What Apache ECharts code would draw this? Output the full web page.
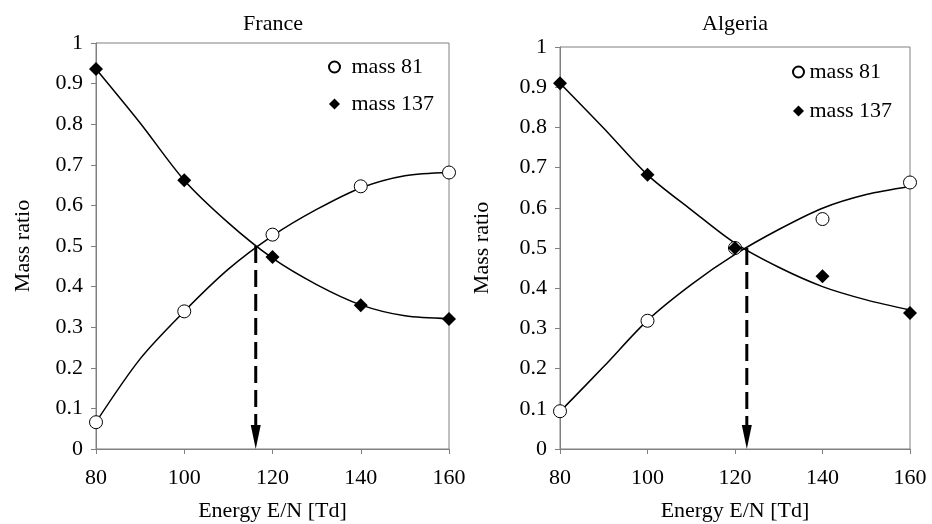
<!DOCTYPE html>
<html>
<head>
<meta charset="utf-8">
<script src="https://cdn.jsdelivr.net/npm/echarts@6/dist/echarts.min.js"></script>
<style>
  html, body { margin: 0; background: #fff; }
  #chart { width: 932px; height: 524px; }
</style>
</head>
<body>
<div id="chart"></div>
<script>
// measured points (energy in Td, mass ratio)
var energy = [80, 100, 120, 140, 160];
var franceMass81 = [0.066, 0.339, 0.528, 0.647, 0.681];
var franceMass137 = [0.936, 0.662, 0.473, 0.354, 0.320];
var algeriaMass81 = [0.094, 0.319, 0.500, 0.572, 0.663];
var algeriaMass137 = [0.910, 0.682, 0.500, 0.430, 0.338];

// trend curves, every 10 Td
var fitX = [80, 90, 100, 110, 120, 130, 140, 150, 160];
var franceFit81 = [0.066, 0.222, 0.339, 0.443, 0.525, 0.590, 0.643, 0.673, 0.681];
var franceFit137 = [0.936, 0.803, 0.662, 0.557, 0.470, 0.405, 0.355, 0.328, 0.321];
var algeriaFit81 = [0.093, 0.205, 0.320, 0.409, 0.484, 0.546, 0.599, 0.633, 0.653];
var algeriaFit137 = [0.910, 0.798, 0.682, 0.595, 0.512, 0.452, 0.404, 0.371, 0.346];

// crossing points marked by the dashed arrow
var crossX = [116.2, 122.7];
var crossY = 0.5;

var titles = ['France', 'Algeria'];
var xTicks = [80, 160, 20];
var yTicks = [0, 1, 0.1];

var font = 'Liberation Serif';
var grey = '#808080';
var diamondIcon = 'path://M5 0L10 5L5 10L0 5Z';

function pairs(xs, ys) {
  var out = [];
  for (var i = 0; i < xs.length; i++) out.push([xs[i], ys[i]]);
  return out;
}

var panels = [
  { m81: franceMass81, m137: franceMass137, f81: franceFit81, f137: franceFit137 },
  { m81: algeriaMass81, m137: algeriaMass137, f81: algeriaFit81, f137: algeriaFit137 }
];

var grids = [
  { left: 96, top: 43, width: 353, height: 406 },
  { left: 560, top: 47, width: 350, height: 402 }
];

var xAxes = [], yAxes = [], series = [];
for (var p = 0; p < 2; p++) {
  grids[p].show = true;
  grids[p].borderColor = grey;
  grids[p].borderWidth = 1;
  grids[p].backgroundColor = '#fff';
  grids[p].containLabel = false;
  grids[p].outerBoundsMode = 'none';

  xAxes.push({
    gridIndex: p, type: 'value',
    min: xTicks[0], max: xTicks[1], interval: xTicks[2],
    name: 'Energy E/N [Td]', nameLocation: 'middle', nameGap: 51,
    nameTextStyle: { fontFamily: font, fontSize: 22, color: '#000' },
    axisLine: { show: true, lineStyle: { color: grey, width: 1 } },
    axisTick: { show: true, length: 5, lineStyle: { color: grey } },
    axisLabel: { margin: 18, fontFamily: font, fontSize: 22, color: '#000' },
    splitLine: { show: false }
  });
  yAxes.push({
    gridIndex: p, type: 'value',
    min: yTicks[0], max: yTicks[1], interval: yTicks[2],
    name: 'Mass ratio', nameLocation: 'middle', nameGap: p == 0 ? 62 : 67,
    nameTextStyle: { fontFamily: font, fontSize: 22, color: '#000' },
    axisLine: { show: true, lineStyle: { color: grey, width: 1 } },
    axisTick: { show: true, length: 5, lineStyle: { color: grey } },
    axisLabel: { margin: 13, fontFamily: font, fontSize: 22, color: '#000' },
    splitLine: { show: false }
  });

  var d = panels[p];
  series.push({
    name: 'fit 81 ' + titles[p], type: 'line', xAxisIndex: p, yAxisIndex: p,
    data: pairs(fitX, d.f81), smooth: 0.3, symbol: 'none', silent: true,
    lineStyle: { color: '#000', width: 1.5 }, z: 2
  });
  series.push({
    name: 'fit 137 ' + titles[p], type: 'line', xAxisIndex: p, yAxisIndex: p,
    data: pairs(fitX, d.f137), smooth: 0.3, symbol: 'none', silent: true,
    lineStyle: { color: '#000', width: 1.5 }, z: 2
  });
  // dashed arrow down to the axis
  series.push({
    name: 'arrow ' + titles[p], type: 'line', xAxisIndex: p, yAxisIndex: p,
    data: [[crossX[p], crossY], [crossX[p], 0.04]], symbol: 'none', silent: true,
    lineStyle: { color: '#000', width: 3, type: [17, 7], cap: 'butt' }, z: 3
  });
  series.push({
    name: 'arrowhead ' + titles[p], type: 'scatter', xAxisIndex: p, yAxisIndex: p,
    data: [[crossX[p], 0]], symbol: 'path://M0 0L10 0L5 24Z',
    symbolSize: [10, 24], symbolOffset: [0, -12], silent: true,
    itemStyle: { color: '#000', opacity: 1 }, z: 3
  });
  series.push({
    name: 'mass 81', type: 'scatter', xAxisIndex: p, yAxisIndex: p,
    data: pairs(energy, d.m81), symbol: 'circle', symbolSize: 13,
    itemStyle: { color: '#fff', borderColor: '#000', borderWidth: 1, opacity: 1 }, z: 5
  });
  series.push({
    name: 'mass 137', type: 'scatter', xAxisIndex: p, yAxisIndex: p,
    data: pairs(energy, d.m137), symbol: 'diamond', symbolSize: 14,
    itemStyle: { color: '#000', opacity: 1 }, z: 6
  });
}

var legendItems = [
  { name: 'mass 81', icon: 'circle' },
  { name: 'mass 137', icon: diamondIcon }
];

var chart = echarts.init(document.getElementById('chart'));
chart.setOption({
  animation: false,
  backgroundColor: '#fff',
  title: [
    { text: titles[0], left: 268, top: 8, textAlign: 'center',
      textStyle: { fontFamily: font, fontSize: 22, fontWeight: 'normal', color: '#000' } },
    { text: titles[1], left: 730, top: 8, textAlign: 'center',
      textStyle: { fontFamily: font, fontSize: 22, fontWeight: 'normal', color: '#000' } }
  ],
  legend: [
    { left: 328, top: 56, padding: 0, orient: 'vertical', itemWidth: 24, itemHeight: 11, itemGap: 15,
      selectedMode: false, symbolKeepAspect: true, data: legendItems,
      textStyle: { fontFamily: font, fontSize: 22, color: '#000' } },
    { left: 792, top: 61, padding: 0, orient: 'vertical', itemWidth: 12, itemHeight: 11, itemGap: 17,
      selectedMode: false, symbolKeepAspect: true, data: legendItems,
      textStyle: { fontFamily: font, fontSize: 22, color: '#000' } }
  ],
  grid: grids,
  xAxis: xAxes,
  yAxis: yAxes,
  series: series
});
</script>
</body>
</html>
